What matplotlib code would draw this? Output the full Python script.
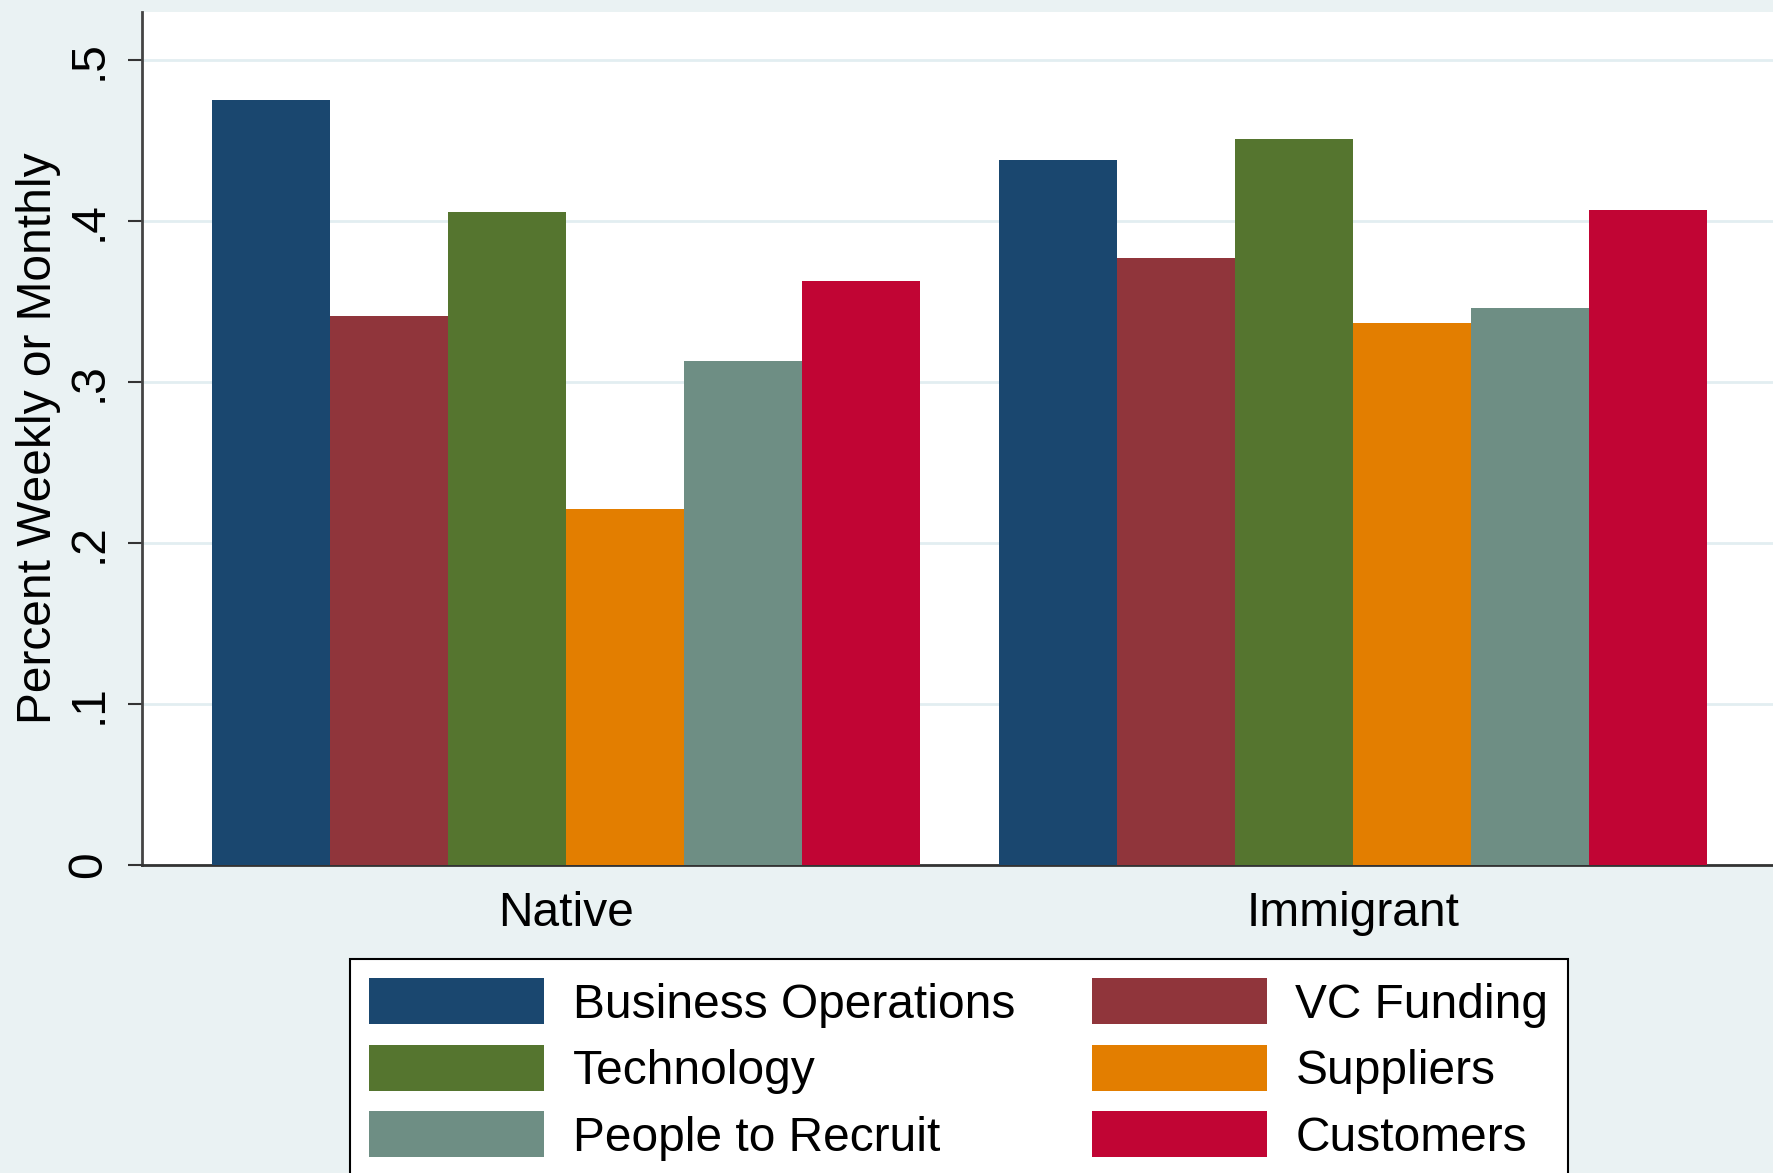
import numpy as np
import matplotlib
matplotlib.use("Agg")
import matplotlib.pyplot as plt

plt.rcParams['font.family'] = ['Liberation Sans', 'DejaVu Sans']

groups = ["Native", "Immigrant"]
series = ["Business Operations", "VC Funding", "Technology",
          "Suppliers", "People to Recruit", "Customers"]
values = {
    "Business Operations": [0.475, 0.438],
    "VC Funding":          [0.341, 0.377],
    "Technology":          [0.406, 0.451],
    "Suppliers":           [0.221, 0.337],
    "People to Recruit":   [0.313, 0.346],
    "Customers":           [0.363, 0.407],
}
colors = ["#1a476f", "#90353b", "#55752f", "#e37e00", "#6e8e84", "#c10534"]

bg = "#eaf2f3"
fs = 34.5
fig = plt.figure(figsize=(17.73, 11.73), dpi=100, facecolor=bg)
ax = fig.add_axes([0.080, 0.2626, 0.92, 0.7272])
ax.set_facecolor("white")

gap = 6.67  # distance between group starts, in bar widths
handles = {}
for i, name in enumerate(series):
    xs = np.arange(len(groups)) * gap + i
    h = ax.bar(xs, values[name], width=1.0, align="edge", color=colors[i],
               linewidth=0, zorder=3, label=name)
    handles[name] = h

ax.set_xlim(-0.594, 13.23)
ax.set_ylim(0, 0.53)
ax.set_xticks(np.arange(len(groups)) * gap + 3)
ax.set_xticklabels(groups)
ax.set_yticks([0, 0.1, 0.2, 0.3, 0.4, 0.5])
ax.set_yticklabels(["0", ".1", ".2", ".3", ".4", ".5"], rotation=90, va="center")
ax.tick_params(axis="x", length=0, labelsize=fs, pad=19)
ax.tick_params(axis="y", length=10, width=1.5, color="#333333", labelsize=fs, pad=12)
ax.set_ylabel("Percent Weekly or Monthly", fontsize=fs, labelpad=4)

ax.grid(axis="y", color="#e2eef1", linewidth=2, zorder=0)
for s in ["top", "right"]:
    ax.spines[s].set_visible(False)
ax.spines["left"].set_color("#444444")
ax.spines["left"].set_linewidth(2)
ax.spines["bottom"].set_color("#333333")
ax.spines["bottom"].set_linewidth(2)

# legend fills column-first, so list column 1 then column 2
order = ["Business Operations", "Technology", "People to Recruit",
         "VC Funding", "Suppliers", "Customers"]
leg = fig.legend([handles[n] for n in order], order, ncol=2,
                 loc="upper left", bbox_to_anchor=(0.1974, 0.1824),
                 borderaxespad=0, fontsize=fs, frameon=True, fancybox=False,
                 edgecolor="black", facecolor="white", framealpha=1,
                 handlelength=3.65, handleheight=1.1, handletextpad=0.6,
                 columnspacing=1.6, labelspacing=0.36, borderpad=0.4)
leg.get_frame().set_linewidth(1.5)

fig.savefig("out.png", dpi=100, facecolor=bg)
